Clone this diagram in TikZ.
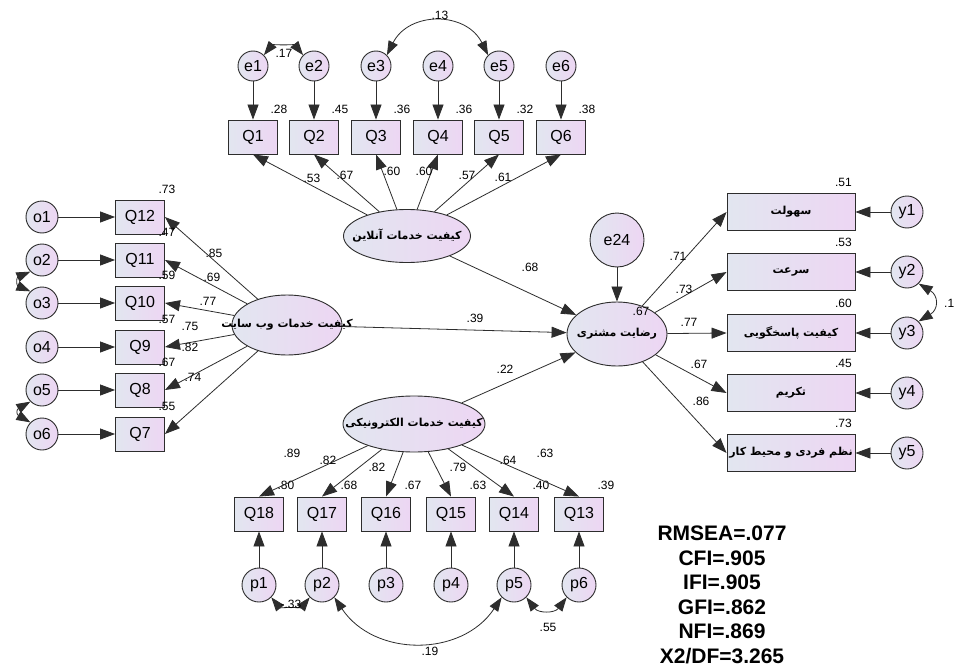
\documentclass[tikz,border=0pt]{standalone}
\usepackage{fontspec}
\setmainfont{Liberation Sans}
\newfontfamily\arabicfont[Script=Arabic]{DejaVu Sans}
\TeXXeTstate=1
\usetikzlibrary{arrows.meta,shapes.geometric,positioning}
\definecolor{fillL}{RGB}{226,230,240}
\definecolor{fillR}{RGB}{237,214,243}
\definecolor{linegray}{RGB}{45,45,45}
\newcommand{\fa}{\arabicfont\bfseries}

\begin{document}
\begin{tikzpicture}[x=1pt, y=-1pt,
  every node/.style={font=\fontsize{16}{17}\selectfont},
  obs/.style={rectangle,draw=linegray,line width=0.9pt,left color=fillL,right color=fillR,minimum width=49pt,minimum height=34pt,inner sep=0pt},
  wide/.style={obs,minimum width=128pt,minimum height=37pt,font=\fontsize{11}{12}\selectfont},
  err/.style={circle,draw=linegray,line width=0.9pt,left color=fillL,right color=fillR,minimum size=30pt,inner sep=0pt},
  lat/.style={ellipse,draw=linegray,line width=0.9pt,left color=fillL,right color=fillR,inner sep=0pt},
  lattext/.style={font=\fontsize{11}{12}\selectfont,inner sep=0pt},
  num/.style={font=\fontsize{12}{13}\selectfont,inner sep=0pt},
  arr/.style={-{Triangle[length=15pt,width=11pt]},draw=linegray,line width=0.8pt},
  cov/.style={{Triangle[length=14pt,width=10pt]}-{Triangle[length=14pt,width=10pt]},draw=linegray,line width=0.8pt}]

\fill[white] (0,0) rectangle (956,669);
\useasboundingbox (0,0) rectangle (956,669);

% Latent variables
\node[lat,minimum width=127pt,minimum height=53pt,label={[lattext]center:{\fa\beginR کیفیت خدمات آنلاین\endR}}] (onl) at (407,236) {};
\node[lat,minimum width=110pt,minimum height=60pt,label={[lattext]center:{\fa\beginR کیفیت خدمات وب سایت\endR}}] (web) at (287,325) {};
\node[lat,minimum width=142pt,minimum height=56pt,label={[lattext]center:{\fa\beginR کیفیت خدمات الکترونیکی\endR}}] (ele) at (414,424) {};
\node[lat,minimum width=100pt,minimum height=64pt,label={[lattext]center:{\fa\beginR رضایت مشتری\endR}}] (sat) at (617,334) {};
\node[err,minimum size=54pt] (e24) at (617,240) {e24};
\node[num] (rsat) at (641,311) {.67};

% Online service items (top)
\foreach \n/\x/\v in {1/253/.28,2/314/.45,3/376/.36,4/438/.36,5/499/.32,6/561/.38}{
  \node[err] (e\n) at (\x,66) {e\n};
  \node[obs] (Q\n) at (\x,137) {Q\n};
  \node[num] (rq\n) at ([xshift=1pt,yshift=10pt]Q\n.north east) {\v};
  \draw[arr] (e\n) -- (Q\n);
  \draw[arr] (onl) -- (Q\n.south);
}

% Website service items (left)
\foreach \n/\y/\i/\v in {12/217/1/.73,11/260/2/.47,10/303/3/.59,9/347/4/.57,8/390/5/.67,7/434/6/.55}{
  \node[err,minimum size=32pt] (o\i) at (42,\y) {o\i};
  \node[obs] (Q\n) at (140,\y) {Q\n};
  \node[num] (rq\n) at ([xshift=2pt,yshift=10pt]Q\n.north east) {\v};
  \draw[arr] (o\i) -- (Q\n);
  \draw[arr] (web) -- (Q\n.east);
}

% Electronic service items (bottom)
\foreach \n/\x/\i/\v in {18/259/1/.80,17/322/2/.68,16/386/3/.67,15/451/4/.63,14/514/5/.40,13/579/6/.39}{
  \node[obs] (Q\n) at (\x,514) {Q\n};
  \node[err,minimum size=34pt] (p\i) at (\x,585) {p\i};
  \node[num] (rq\n) at ([xshift=2pt,yshift=11pt]Q\n.north east) {\v};
  \draw[arr] (p\i) -- (Q\n);
  \draw[arr] (ele) -- (Q\n.north);
}

% Satisfaction items (right)
\foreach \i/\y/\v/\t in {1/212/.51/{\beginR سهولت\endR},2/272/.53/{\beginR سرعت\endR},3/333/.60/{\beginR کیفیت پاسخگویی\endR},4/393/.45/{\beginR تکریم\endR},5/453/.73/{\beginR نظم فردی و محیط کار\endR}}{
  \node[wide] (r\i) at (791,\y) {\fa\t};
  \node[err,minimum size=32pt] (y\i) at (907,\y) {y\i};
  \node[num] (rr\i) at ([xshift=-12pt,yshift=11pt]r\i.north east) {\v};
  \draw[arr] (y\i) -- (r\i);
  \draw[arr] (sat) -- (r\i.west);
}

% Structural paths
\draw[arr] (e24) -- (sat);
\draw[arr] (onl) -- (sat);
\draw[arr] (web) -- (sat);
\draw[arr] (ele) -- (sat);
\node[num] (b1) at (530,267) {.68};
\node[num] (b2) at (475,318) {.39};
\node[num] (b3) at (505,369) {.22};

% Loadings
\foreach \v/\x/\y [count=\k] in {.53/312/178,.67/345/175,.60/392/171,.60/424/171,.57/467/175,.61/503/177}
  \node[num] (la\k) at (\x,\y) {\v};
\foreach \v/\x/\y [count=\k] in {.85/214/253,.69/212/277,.77/208/301,.75/190/326,.82/190/347,.74/193/377}
  \node[num] (lb\k) at (\x,\y) {\v};
\foreach \v/\x/\y [count=\k] in {.89/292/453,.82/328/460,.82/377/467,.79/458/467,.64/508/460,.63/545/453}
  \node[num] (lc\k) at (\x,\y) {\v};
\foreach \v/\x/\y [count=\k] in {.71/678/256,.73/684/289,.77/689/322,.67/699/364,.86/701/401}
  \node[num] (ld\k) at (\x,\y) {\v};

% Covariances
\draw[cov] (e1.north east) .. controls +(8,-10) and +(-8,-10) .. (e2.north west);
\node[num] (c1) at (284,53) {.17};
\draw[cov] (e3.north east) .. controls +(22,-44) and +(-22,-44) .. (e5.north west);
\node[num] (c2) at (440,15) {.13};
\draw[cov] (o2.south west) .. controls +(-14,6) and +(-14,-6) .. (o3.north west);
\draw[cov] (o5.south west) .. controls +(-14,8) and +(-14,-8) .. (o6.north west);
\draw[cov] (y2.south east) .. controls +(20,12) and +(20,-12) .. (y3.north east);
\node[num,anchor=west] (c3) at (944,303) {.1};
\draw[cov] (p1.south east) .. controls +(8,10) and +(-8,10) .. (p2.south west);
\node[num] (c4) at (291,604) {-.33};
\draw[cov] (p2.south east) .. controls +(40,60) and +(-40,60) .. (p5.south west);
\node[num] (c5) at (430,651) {.19};
\draw[cov] (p5.south east) .. controls +(12,16) and +(-12,16) .. (p6.south west);
\node[num] (c6) at (548,627) {.55};

% Fit indices
\node[font=\fontsize{21}{24.5}\selectfont\bfseries,align=center] (fit) at (722,595) {RMSEA=.077\\CFI=.905\\IFI=.905\\GFI=.862\\NFI=.869\\X2/DF=3.265};
\end{tikzpicture}
\end{document}
